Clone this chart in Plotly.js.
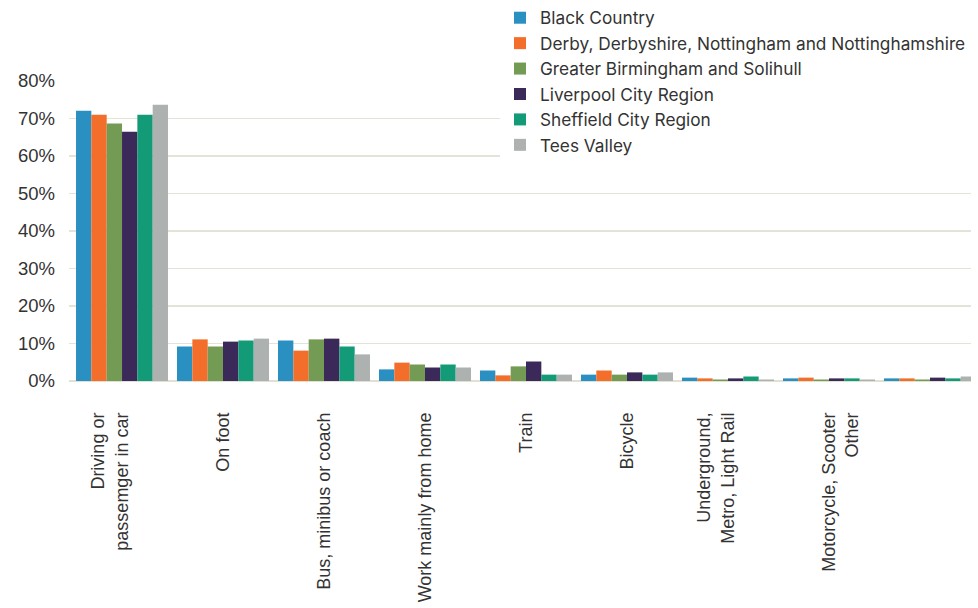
<!DOCTYPE html>
<html>
<head>
<meta charset="utf-8">
<script src="https://cdn.plot.ly/plotly-3.0.1.min.js"></script>
<style>
html,body{margin:0;padding:0;background:#fff;}
#chart{width:978px;height:608px;}
</style>
</head>
<body>
<div id="chart"></div>
<script>
// Categories (tick labels as shown in the reference)
const categories = ["c1","c2","c3","c4","c5","c6","c7","c8","c9"];
const tickLabels = [
  "Driving or<br>passemger in car<br> ",
  "On foot",
  "Bus, minibus or coach",
  "Work mainly from home",
  "Train",
  "Bicycle",
  "Underground,<br>Metro, Light Rail<br> ",
  " <br>Motorcycle, Scooter<br>Other",
  ""
];

const seriesNames = [
  "Black Country",
  "Derby, Derbyshire, Nottingham and Nottinghamshire",
  "Greater Birmingham and Solihull",
  "Liverpool City Region",
  "Sheffield City Region",
  "Tees Valley"
];

// Shares of commuters (%)
const blackCountry   = [72.1,  9.2, 10.8, 3.1, 2.8, 1.7, 0.9, 0.7, 0.7];
const derbyNotts     = [71.0, 11.1,  8.1, 4.9, 1.5, 2.8, 0.7, 0.9, 0.7];
const greaterBham    = [68.7,  9.2, 11.1, 4.4, 3.9, 1.7, 0.4, 0.4, 0.4];
const liverpool      = [66.5, 10.5, 11.3, 3.6, 5.2, 2.3, 0.7, 0.7, 0.9];
const sheffield      = [71.0, 10.8,  9.2, 4.4, 1.7, 1.7, 1.2, 0.7, 0.7];
const teesValley     = [73.7, 11.3,  7.1, 3.6, 1.7, 2.3, 0.4, 0.4, 1.2];

const seriesValues = [blackCountry, derbyNotts, greaterBham, liverpool, sheffield, teesValley];
const colors = ["#2a8fc1", "#f36e2b", "#739b53", "#3b2a59", "#139a77", "#adb2b1"];

const traces = seriesNames.map((name, i) => ({
  type: "bar",
  name: name,
  x: categories,
  y: seriesValues[i],
  marker: {color: colors[i], line: {width: 0}},
  cliponaxis: false,
  hoverinfo: "skip"
}));

const layout = {
  width: 978,
  height: 608,
  margin: {l: 69, r: 7, t: 81, b: 226.5, pad: 0, autoexpand: false},
  paper_bgcolor: "#ffffff",
  plot_bgcolor: "#ffffff",
  barmode: "group",
  bargap: 0.089,
  bargroupgap: 0,
  font: {family: "Liberation Sans, Arial, sans-serif", size: 18, color: "#333333"},
  xaxis: {
    type: "category",
    range: [-0.525, 8.406],
    tickmode: "array",
    tickvals: categories,
    ticktext: tickLabels,
    tickangle: -90,
    ticks: "",
    showgrid: false,
    zeroline: false,
    showline: false,
    ticklabelstandoff: 27,
    tickfont: {size: 18, color: "#333333"},
    fixedrange: true
  },
  yaxis: {
    range: [0, 80],
    tickvals: [0, 10, 20, 30, 40, 50, 60, 70, 80],
    ticktext: ["0%", "10%", "20%", "30%", "40%", "50%", "60%", "70%", "80%"],
    ticks: "",
    showgrid: true,
    gridcolor: "#e3e4d7",
    gridwidth: 1.4,
    zeroline: true,
    zerolinecolor: "#e0e1d3",
    zerolinewidth: 2.2,
    showline: false,
    ticklabelstandoff: 13,
    tickfont: {size: 18.5, color: "#333333"},
    fixedrange: true
  },
  showlegend: true,
  legend: {
    x: 0.4778,
    xanchor: "left",
    yref: "container",
    y: 1.0,
    yanchor: "top",
    bgcolor: "#ffffff",
    borderwidth: 0,
    font: {family: "Inter, Liberation Sans, Arial, sans-serif", size: 17.25, color: "#333333"},
    traceorder: "normal",
    itemclick: false,
    itemdoubleclick: false
  }
};

Plotly.newPlot("chart", traces, layout, {displayModeBar: false, staticPlot: true});
</script>
</body>
</html>
